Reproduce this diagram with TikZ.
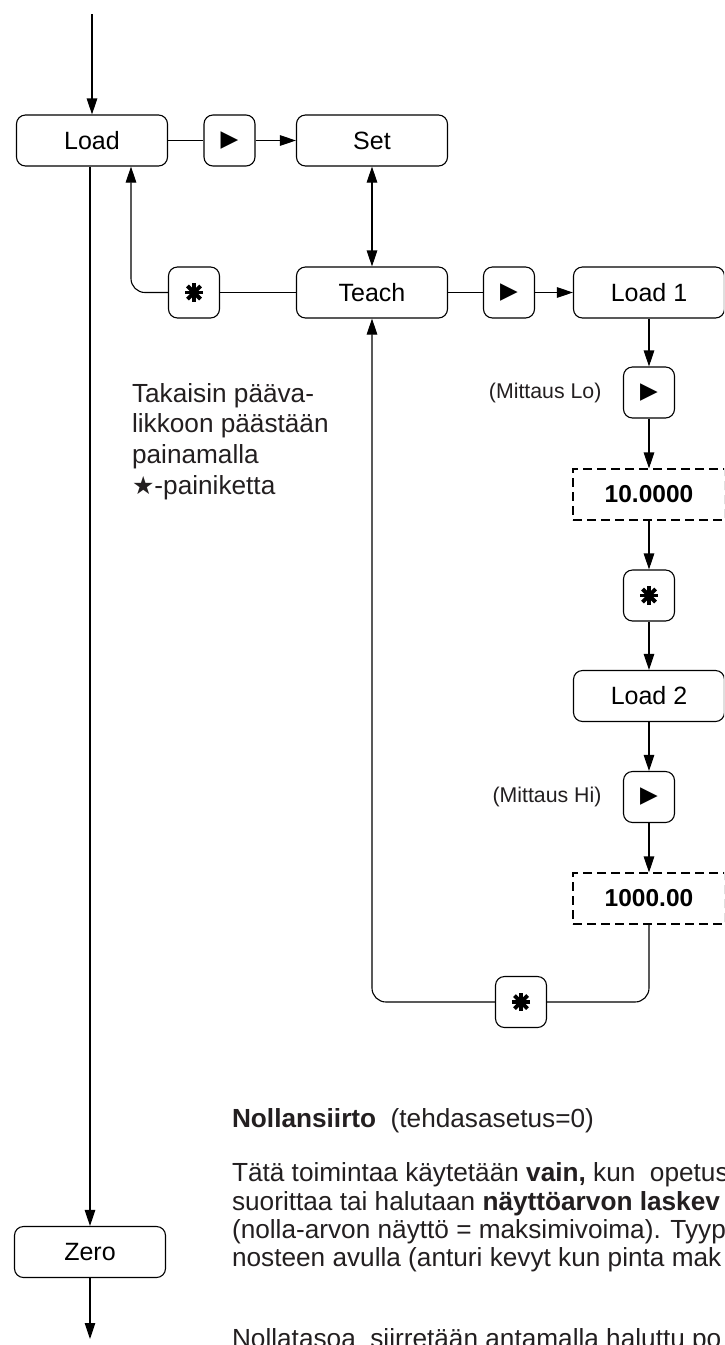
\documentclass[tikz,border=0pt]{standalone}
\usepackage{fontspec}
\setmainfont{Liberation Sans}
\newfontfamily\symfont{DejaVu Sans}
\usetikzlibrary{arrows.meta,calc}
\definecolor{ink}{RGB}{35,31,32}
\begin{document}
\begin{tikzpicture}[x=1pt,y=-1pt,line width=1.1pt,
  box/.style={draw,rounded corners=9pt,minimum width=151pt,minimum height=51pt,inner sep=0pt,font=\fontsize{25}{30}\selectfont},
  btn/.style={draw,rounded corners=9pt,minimum width=51pt,minimum height=51pt,inner sep=0pt},
  val/.style={draw,dash pattern=on 9pt off 5pt,minimum width=152pt,minimum height=51pt,inner sep=0pt,font=\fontsize{24.5}{29}\selectfont\bfseries},
  arr/.style={-{Triangle[length=16pt,width=10.5pt]}},
  darr/.style={{Triangle[length=16pt,width=10.5pt]}-{Triangle[length=16pt,width=10.5pt]}},
  txt/.style={inner sep=0pt,text=ink,font=\fontsize{26.2}{31}\selectfont},
  lbl/.style={inner sep=0pt,text=ink,font=\fontsize{21.3}{25}\selectfont},
  playsym/.style={font=\symfont\fontsize{23}{23}\selectfont},
  astk/.pic={\fill (0,0) circle (4.2pt);
    \foreach \a in {0,45,90,135}{\draw[line width=3.9pt] (\a:9.2) -- (\a+180:9.2);}}]
\useasboundingbox (0,0) rectangle (724,1345);
\fill[white] (0,0) rectangle (724,1345);
\clip (0,0) rectangle (724,1345);

% nodes
\node[box] (load) at (92,140.5) {Load};
\node[btn,playsym] (b1) at (229.5,140.5) {▶};
\node[box] (set) at (372,140.5) {Set};
\node[box] (teach) at (372,292.5) {Teach};
\node[btn] (s1) at (194,292.5) {};
\node[btn,playsym] (b2) at (509,292.5) {▶};
\node[box] (load1) at (649,292.5) {Load 1};
\node[btn,playsym] (b3) at (649,392.5) {▶};
\node[val] (v1) at (649,494.5) {10.0000};
\node[btn] (s2) at (649,595.5) {};
\node[box] (load2) at (649,696) {Load 2};
\node[btn,playsym] (b4) at (649,797) {▶};
\node[val] (v2) at (649,898.5) {1000.00};
\node[btn] (s3) at (521,1002) {};
\node[box] (zero) at (90,1252) {Zero};

\pic at (s1) {astk};
\pic at (s2) {astk};
\pic at (s3) {astk};

\node[lbl,anchor=east] (m1) at ($(b3.west)+(-21,0)$) {(Mittaus Lo)};
\node[lbl,anchor=east] (m2) at ($(b4.west)+(-21,0)$) {(Mittaus Hi)};

% connectors
\coordinate (top) at (92,14);
\coordinate (bot) at (90,1339);
\coordinate (lb) at ($(load.south)+(39,0)$);
\draw[arr] (top) -- (load.north);
\draw (load) -- (b1);
\draw[arr] (b1) -- (set);
\draw[darr] (set) -- (teach);
\draw (teach) -- (s1);
\draw[arr,rounded corners=14pt] (s1.west) -| (lb);
\draw (teach) -- (b2);
\draw[arr] (b2) -- (load1);
\draw[arr] (load1) -- (b3);
\draw[arr] (b3) -- (v1);
\draw[arr] (v1) -- (s2);
\draw[arr] (s2) -- (load2);
\draw[arr] (load2) -- (b4);
\draw[arr] (b4) -- (v2);
\draw[rounded corners=14pt] (v2.south) |- (s3.east);
\draw[arr,rounded corners=14pt] (s3.west) -| (teach.south);
\draw[arr] (load.south -| zero.north) -- (zero.north);
\draw[arr] (zero.south) -- (bot);

% side note
\node[txt,anchor=base west] (t1) at (131.5,402) {Takaisin pääva-};
\node[txt,anchor=base west] (t2) at (131.5,432.5) {likkoon päästään};
\node[txt,anchor=base west] (t3) at (131.5,463) {painamalla};
\node[txt,anchor=base west] (t4) at (131.5,494) {{\symfont\fontsize{25}{30}\selectfont ★}-painiketta};

% bottom text
\node[txt,anchor=base west] (h) at (231.5,1127) {\textbf{Nollansiirto}~ (tehdasasetus=0)};
\node[txt,anchor=base west] (p1) at (231.5,1181.7) {Tätä toimintaa käytetään \textbf{vain,} kun~ opetus};
\node[txt,anchor=base west] (p2) at (231.5,1210) {suorittaa tai halutaan \textbf{näyttöarvon laskev}};
\node[txt,anchor=base west] (p3) at (231.5,1238) {(nolla-arvon näyttö = maksimivoima). Tyyp};
\node[txt,anchor=base west] (p4) at (231.5,1266) {nosteen avulla (anturi kevyt kun pinta mak};
\node[txt,anchor=base west] (p5) at (231.5,1347) {Nollatasoa~ siirretään antamalla haluttu po};
\end{tikzpicture}
\end{document}
